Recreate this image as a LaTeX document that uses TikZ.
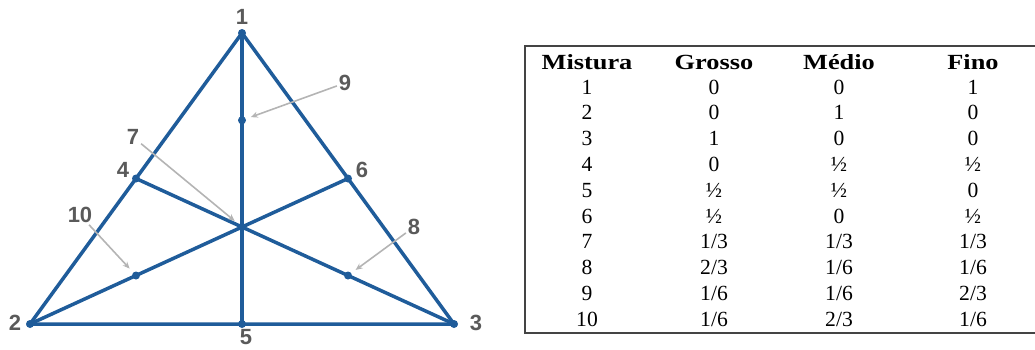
\documentclass[tikz,border=0pt]{standalone}
\usepackage{fontspec}
\usepackage{graphicx}
\setmainfont{Liberation Serif}
\newfontfamily\lblfont{Liberation Sans}
\usetikzlibrary{arrows.meta,positioning,calc}
\definecolor{tblue}{HTML}{1F5C9A}
\definecolor{tgray}{HTML}{5A5A5A}
\definecolor{agray}{HTML}{B4B4B4}
\definecolor{rule}{HTML}{444444}
\tikzset{
  edge/.style={draw=tblue,line width=1.75pt,line cap=round},
  pt/.style={circle,fill=tblue,inner sep=0pt,minimum size=4pt},
  num/.style={font=\lblfont\bfseries\fontsize{11}{11}\selectfont,text=tgray,inner sep=0.8pt},
  pointer/.style={-{Stealth[length=3.5pt,width=3pt]},draw=agray,line width=0.8pt,shorten >=2.5pt},
  hd/.style={font=\bfseries\fontsize{10.8}{11}\selectfont,inner sep=0pt},
  cell/.style={font=\fontsize{10.8}{11}\selectfont,inner sep=0pt},
}
\newcommand{\wide}[1]{\scalebox{1.22}[1]{#1}}
\begin{document}
\begin{tikzpicture}[x=0.5pt,y=-0.5pt]
  \useasboundingbox (0,0) rectangle (1035,349);
  % triangle points
  \coordinate (p1) at (242,33);
  \coordinate (p2) at (30,324);
  \coordinate (p3) at (454,324);
  \coordinate (p4) at ($(p1)!0.5!(p2)$);
  \coordinate (p5) at ($(p2)!0.5!(p3)$);
  \coordinate (p6) at ($(p1)!0.5!(p3)$);
  \coordinate (p7) at ($(p1)!2/3!(p5)$);
  \coordinate (p8) at ($(p7)!0.5!(p3)$);
  \coordinate (p9) at ($(p7)!0.55!(p1)$);
  \coordinate (p10) at ($(p7)!0.5!(p2)$);
  \draw[edge] (p1) -- (p2) -- (p3) -- cycle;
  \draw[edge] (p1) -- (p5);
  \draw[edge] (p2) -- (p6);
  \draw[edge] (p3) -- (p4);
  \foreach \i in {1,...,10} \node[pt] (d\i) at (p\i) {};
  % labels
  \node[num] (l1) at (242,17) {1};
  \node[num] (l2) at (15,323) {2};
  \node[num] (l3) at (476,323) {3};
  \node[num] (l4) at (123,170) {4};
  \node[num] (l5) at (246,337) {5};
  \node[num] (l6) at (362,170) {6};
  \node[num] (l7) at (133,137) {7};
  \node[num] (l8) at (414,227) {8};
  \node[num] (l9) at (345,83) {9};
  \node[num] (l10) at (80,215) {10};
  \foreach \i in {7,8,9,10} \draw[pointer] (l\i) -- (d\i);
  % table
  \draw[rule,line width=1pt] (1036,46) -- (525,46) -- (525,333) -- (1036,333);
  \node[hd] (hm) at (587,62) {\wide{Mistura}};
  \node[hd] (hg) at (714,62) {\wide{Grosso}};
  \node[hd] (hd) at (839,62) {\wide{Médio}};
  \node[hd] (hf) at (973,62) {\wide{Fino}};
  \foreach \r/\g/\m/\f [count=\k] in {1/0/0/1,2/0/1/0,3/1/0/0,4/0/½/½,5/½/½/0,6/½/0/½,7/1\slash 3/1\slash 3/1\slash 3,8/2\slash 3/1\slash 6/1\slash 6,9/1\slash 6/1\slash 6/2\slash 3,10/1\slash 6/2\slash 3/1\slash 6}{
    \node[cell] (r\k) at (587,{87+25.8*(\k-1)}) {\r};
    \node[cell] (g\k) at (714,{87+25.8*(\k-1)}) {\g};
    \node[cell] (m\k) at (839,{87+25.8*(\k-1)}) {\m};
    \node[cell] (f\k) at (973,{87+25.8*(\k-1)}) {\f};
  }
\end{tikzpicture}
\end{document}
